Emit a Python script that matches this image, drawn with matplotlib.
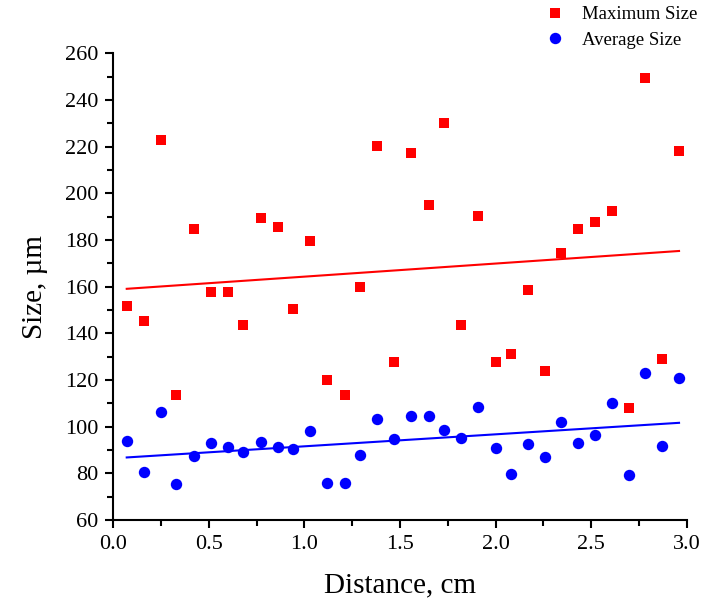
import numpy as np
import matplotlib
matplotlib.use('Agg')
import matplotlib.pyplot as plt
from matplotlib.ticker import MultipleLocator

plt.rcParams['font.family'] = ['Liberation Serif', 'DejaVu Serif']
plt.rcParams['mathtext.fontset'] = 'stix'

# sampling positions along the specimen, cm
distance = [0.07, 0.16, 0.25, 0.33, 0.42, 0.51, 0.60, 0.68, 0.77, 0.86,
            0.94, 1.03, 1.12, 1.21, 1.29, 1.38, 1.47, 1.56, 1.65, 1.73,
            1.82, 1.91, 2.00, 2.08, 2.17, 2.26, 2.34, 2.43, 2.52, 2.61,
            2.70, 2.78, 2.87, 2.96]

# sizes in micrometres
max_size = [151.7, 145.4, 223.0, 113.6, 184.6, 157.6, 157.6, 143.4, 189.4, 185.4,
            150.5, 179.4, 120.0, 113.6, 159.7, 220.1, 127.6, 217.3, 195.0, 230.3,
            143.5, 190.3, 127.6, 131.1, 158.6, 124.0, 174.3, 184.6, 187.7, 192.6,
            108.0, 249.6, 128.8, 218.1]

avg_size = [93.7, 80.4, 106.4, 75.4, 87.5, 93.1, 91.1, 89.1, 93.5, 91.1,
            90.3, 98.1, 75.7, 75.7, 87.7, 103.4, 94.7, 104.7, 104.4, 98.4,
            95.1, 108.3, 90.7, 79.6, 92.4, 87.0, 101.8, 93.0, 96.4, 110.2,
            79.1, 122.8, 91.8, 121.0]

x = np.array(distance)

fig = plt.figure(figsize=(7.04, 6.07), dpi=100)
ax = fig.add_axes([0.161, 0.1433, 0.8144, 0.7689])

ax.plot(x, max_size, 's', color='#ff0000', markersize=7.3, markeredgewidth=0,
        label='Maximum Size', zorder=3)
ax.plot(x, avg_size, 'o', color='#0000ff', markersize=8.2, markeredgewidth=0,
        label='Average Size', zorder=3)

# linear fits over the sampled range
xs = np.array([x.min(), x.max()])
for ys, c in ((max_size, '#ff0000'), (avg_size, '#0000ff')):
    k, b = np.polyfit(x, ys, 1)
    ax.plot(xs, k * xs + b, '-', color=c, lw=1.5, zorder=2)

ax.set_xlim(0, 3.0)
ax.set_ylim(60, 260)
ax.xaxis.set_major_locator(MultipleLocator(0.5))
ax.xaxis.set_minor_locator(MultipleLocator(0.25))
ax.yaxis.set_major_locator(MultipleLocator(20))
ax.yaxis.set_minor_locator(MultipleLocator(10))
ax.xaxis.set_major_formatter(plt.FormatStrFormatter('%.1f'))

for s in ('top', 'right'):
    ax.spines[s].set_visible(False)
for s in ('left', 'bottom'):
    ax.spines[s].set_linewidth(1.5)

ax.tick_params(which='major', direction='out', length=6, width=1.5,
               labelsize=16, pad=5)
ax.tick_params(which='minor', direction='out', length=4, width=1.5)

ax.set_xlabel('Distance, cm', fontsize=21, labelpad=13)
ax.set_ylabel('Size, µm', fontsize=21, labelpad=12)

fig.legend(loc='upper left', bbox_to_anchor=(0.765, 1.002), frameon=False,
           fontsize=13.5, handlelength=1.0, handletextpad=0.9, labelspacing=0.45,
           borderaxespad=0)

fig.savefig('out.png', dpi=100)
